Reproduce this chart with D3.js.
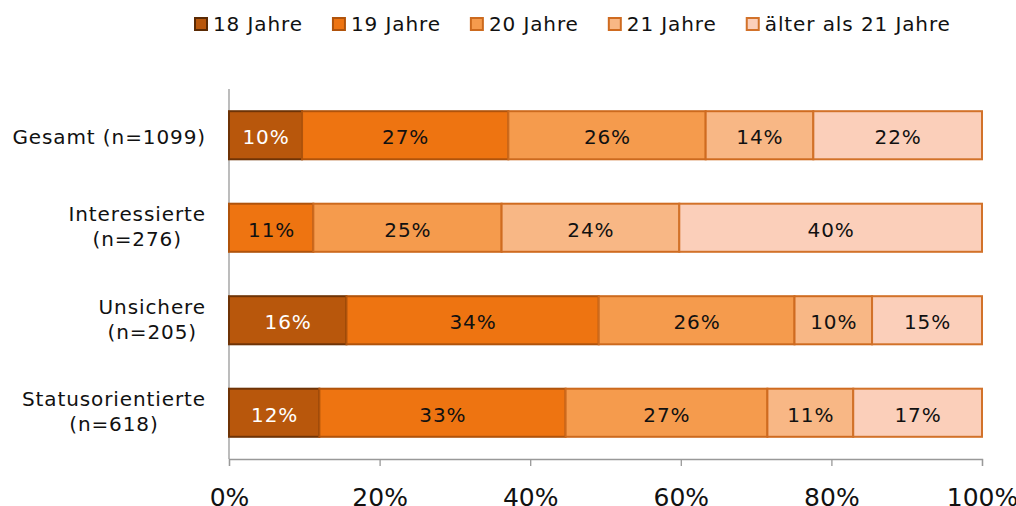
<!DOCTYPE html>
<html><head><meta charset="utf-8">
<script src="https://cdn.jsdelivr.net/npm/d3@7"></script>
<style>
body{margin:0;background:#fff;}
svg{display:block;}
text{font-family:"DejaVu Sans",Verdana,sans-serif;}
</style></head>
<body>
<svg id="chart" width="1016" height="506"></svg>
<script>
const categories = ["Gesamt (n=1099)", "Interessierte (n=276)", "Unsichere (n=205)", "Statusorientierte (n=618)"];
const categoryLines = [["Gesamt (n=1099)"], ["Interessierte", "(n=276)"], ["Unsichere", "(n=205)"], ["Statusorientierte", "(n=618)"]];
const seriesNames = ["18 Jahre", "19 Jahre", "20 Jahre", "21 Jahre", "älter als 21 Jahre"];
const s18 = [9.7, 0, 15.6, 12.0];
const s19 = [27.4, 11.2, 33.5, 32.7];
const s20 = [26.2, 25.0, 26.0, 26.8];
const s21 = [14.3, 23.6, 10.3, 11.4];
const sOlder = [22.4, 40.2, 14.6, 17.1];
const xTicks = [0, 20, 40, 60, 80, 100];

const fills = ["#B8570C", "#EE7411", "#F59B4D", "#F8B785", "#FBCFBA"];
const strokes = ["#6E3306", "#B0530B", "#CC6A1E", "#CF6B20", "#D2722A"];
const labelColors = ["#ffffff", "#111111", "#111111", "#111111", "#111111"];

const svg = d3.select("#chart");
const FS = 20, LS = 0.9;

const rows = categories.map((c, i) => {
  const r = {cat: c};
  [s18, s19, s20, s21, sOlder].forEach((arr, k) => r[seriesNames[k]] = arr[i]);
  return r;
});
const stacked = d3.stack().keys(seriesNames)(rows);

const x = d3.scaleLinear().domain([0, 100]).range([229, 982]);
const y = d3.scaleBand().domain(categories).range([89, 459]).paddingInner(0.48).paddingOuter(0.24);

// axis lines
svg.append("line").attr("x1", x(0)).attr("x2", x(0)).attr("y1", 89).attr("y2", 459)
  .attr("stroke", "#999").attr("stroke-width", 1.3);
const xAxis = svg.append("g").attr("transform", "translate(0,459)")
  .call(d3.axisBottom(x).tickValues(xTicks).tickSize(7).tickFormat(d => d + "%"));
xAxis.select(".domain").attr("stroke", "#999").attr("stroke-width", 1.3);
xAxis.selectAll(".tick line").attr("stroke", "#999").attr("stroke-width", 1.3);
xAxis.selectAll(".tick text").attr("font-family", "'Liberation Serif','Times New Roman',serif")
  .attr("font-size", 25).attr("fill", "#111").attr("y", 0).attr("dy", 0)
  .attr("transform", "translate(0,46.5)");

// bars
stacked.forEach((layer, k) => {
  const g = svg.append("g");
  layer.forEach((d, i) => {
    const w = x(d[1]) - x(d[0]);
    if (w <= 0) return;
    g.append("rect")
      .attr("x", x(d[0])).attr("y", y(categories[i]))
      .attr("width", w).attr("height", y.bandwidth())
      .attr("fill", fills[k]).attr("stroke", strokes[k]).attr("stroke-width", 2);
    g.append("text")
      .attr("x", (x(d[0]) + x(d[1])) / 2 + LS / 2)
      .attr("y", y(categories[i]) + y.bandwidth() / 2 + 9)
      .attr("text-anchor", "middle").attr("font-size", FS).attr("letter-spacing", LS)
      .attr("fill", labelColors[k])
      .text(Math.round(d[1] - d[0]) + "%");
  });
});

// category labels
categoryLines.forEach((lines, i) => {
  const cy = y(categories[i]) + y.bandwidth() / 2;
  const g = svg.append("g");
  const texts = lines.map(t => g.append("text").attr("font-size", FS).attr("letter-spacing", LS)
    .attr("fill", "#111").attr("text-anchor", "middle").text(t));
  const maxW = d3.max(texts, t => t.node().getComputedTextLength());
  const cx = 206 - maxW / 2;
  const lh = 25;
  texts.forEach((t, j) => {
    const off = (j - (lines.length - 1) / 2) * lh;
    t.attr("x", cx).attr("y", cy + off + (lines.length > 1 ? 6 : 9));
  });
});

// legend
let lx = 195;
seriesNames.forEach((name, k) => {
  svg.append("rect").attr("x", lx).attr("y", 18).attr("width", 12).attr("height", 12)
    .attr("fill", fills[k]).attr("stroke", k === 0 ? "#5a2a04" : strokes[k]).attr("stroke-width", 2);
  const t = svg.append("text").attr("x", lx + 18).attr("y", 31).attr("font-size", FS)
    .attr("letter-spacing", LS).attr("fill", "#111").text(name);
  lx += 18 + t.node().getComputedTextLength() + 30;
});
</script>
</body></html>
